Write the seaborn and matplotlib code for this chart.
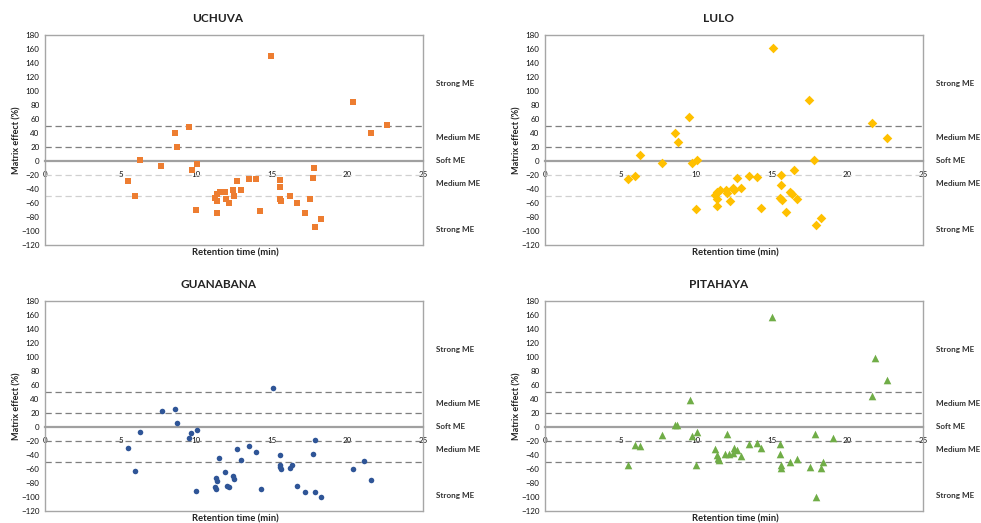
import matplotlib
matplotlib.use("Agg")
import matplotlib.pyplot as plt
import seaborn as sns
import pandas as pd

# Retention time (min) and matrix effect (%) per fruit matrix
uchuva_rt = [5.51, 5.93, 6.28, 7.69, 8.60, 8.75, 9.55, 9.70, 10.05, 9.99, 11.22, 11.35,
             11.55, 11.40, 11.38, 11.90, 11.97, 12.19, 12.41, 12.50, 12.70, 12.99, 13.51,
             13.98, 14.24, 14.95, 15.56, 15.54, 15.56, 15.61, 16.20, 16.67, 17.17, 17.53,
             17.70, 17.79, 17.88, 18.23, 20.39, 21.58, 22.60]
uchuva_me = [-29, -49.5, 1, -7, 40.5, 20, 48.6, -12.4, -4.8, -70.5, -52.4, -47,
             -44, -56.7, -74.8, -44.3, -54.3, -59.5, -42, -50, -28, -41, -25.7,
             -25.7, -71.4, 149.5, -27, -37, -54, -57.6, -49.5, -59.5, -73.8, -54.8,
             -24.8, -9.5, -93.8, -82.4, 84.3, 40.5, 52]

lulo_rt = [5.51, 5.95, 6.31, 7.72, 8.60, 8.77, 9.55, 9.72, 10.05, 9.99, 11.24, 11.40,
           11.57, 11.40, 11.38, 11.95, 12.02, 12.24, 12.41, 12.52, 12.72, 12.99, 13.51,
           14.00, 14.29, 15.06, 15.61, 15.59, 15.57, 15.66, 15.96, 16.18, 16.34, 16.45,
           16.67, 17.48, 17.81, 17.90, 18.25, 21.60, 22.60]
lulo_me = [-25.7, -21.9, 8.1, -3.3, 39.5, 27.1, 63.3, -3.3, 1, -69, -48.6, -44.3,
           -41.4, -54.3, -64.3, -41.4, -46.2, -57.1, -39, -41.9, -24.8, -39, -21.4,
           -23.3, -67.6, 161, -20, -33.8, -52.4, -55.2, -72.4, -44.3, -46.7, -12.4,
           -54.3, 86.7, 1, -91, -81.9, 53.8, 33.3]

guanabana_rt = [5.51, 5.93, 6.28, 7.72, 8.60, 8.75, 9.50, 9.68, 10.03, 9.99, 11.53, 11.33,
                11.38, 11.22, 11.33, 11.90, 12.01, 12.17, 12.41, 12.50, 12.68, 12.99, 13.51,
                13.98, 14.26, 15.07, 15.52, 15.55, 15.57, 15.61, 16.20, 16.31, 16.67, 17.17,
                17.75, 17.83, 17.88, 18.23, 20.39, 21.12, 21.58]
guanabana_me = [-30, -62.4, -7.1, 22.4, 25.2, 5.7, -16.2, -9, -4.8, -91.4, -44.8, -72.4,
                -77.1, -85.2, -89, -64.8, -84.8, -85.7, -70, -74.3, -31.4, -47.6, -27.6,
                -35.2, -89, 55.2, -39.5, -53.8, -57.1, -59.5, -58.6, -54.8, -84.8, -93.3,
                -38.6, -18.6, -92.4, -100.5, -59.5, -48.1, -75.7]

pitahaya_rt = [5.51, 5.95, 6.31, 7.72, 8.60, 8.75, 9.59, 9.70, 10.05, 9.99, 11.24, 11.38,
               11.44, 11.49, 11.88, 12.04, 12.19, 12.41, 12.52, 12.70, 12.99, 13.51, 14.00,
               14.29, 14.99, 15.56, 15.54, 15.59, 15.61, 16.20, 16.67, 17.50, 17.83, 17.90,
               18.25, 18.41, 19.03, 21.61, 21.85, 22.60]
pitahaya_me = [-54.3, -25.2, -27.6, -11.9, 3.3, 3.3, 39, -12.9, -7.1, -54.8, -31.4, -40,
               -44.3, -47.1, -38.6, -10.5, -38.6, -36.7, -29.5, -32.4, -41.4, -24.3, -22.4,
               -29.5, 157, -24.3, -38, -54.8, -58.6, -50.5, -46.2, -57.1, -9.5, -100,
               -58.6, -50.5, -16.2, 43.8, 98, 66.7]

panels = ["UCHUVA", "LULO", "GUANABANA", "PITAHAYA"]
series = [(uchuva_rt, uchuva_me), (lulo_rt, lulo_me),
          (guanabana_rt, guanabana_me), (pitahaya_rt, pitahaya_me)]
colors = ["#ED7D31", "#FFC000", "#2F5597", "#70AD47"]
markers = ["s", "D", "o", "^"]
marker_sizes = [22, 24, 16, 30]

zone_labels = ["Strong ME", "Medium ME", "Soft ME", "Medium ME", "Strong ME"]
zone_label_y = [111, 34, 1, -32, -98]

sns.set_style("white")
plt.rcParams["font.family"] = ["Lato", "DejaVu Sans"]

W, H = 981, 523
fig = plt.figure(figsize=(W / 100, H / 100), dpi=100)

# axes boxes in pixels: left, top, width, height
boxes = [(45, 35), (545, 35), (45, 301), (545, 301)]
bw, bh = 378, 210

for i, (name, (rt, me)) in enumerate(zip(panels, series)):
    left, top = boxes[i]
    ax = fig.add_axes([left / W, (H - top - bh) / H, bw / W, bh / H])
    df = pd.DataFrame({"rt": rt, "me": me})
    sns.scatterplot(data=df, x="rt", y="me", ax=ax, color=colors[i],
                    marker=markers[i], s=marker_sizes[i], linewidth=0, zorder=3)
    ax.set_xlim(0, 25)
    ax.set_ylim(-120, 180)
    ax.set_xticks(range(0, 26, 5))
    ax.set_yticks(range(-120, 181, 20))
    ax.set_xlabel("")
    ax.set_ylabel("")

    frame = "#A6A6A6"
    for side in ("left", "right", "top"):
        ax.spines[side].set_color(frame)
        ax.spines[side].set_linewidth(1.0)
    # x axis crosses at zero
    ax.spines["bottom"].set_position(("data", 0))
    ax.spines["bottom"].set_color("#A0A0A0")
    ax.spines["bottom"].set_linewidth(1.6)
    ax.plot([0, 1], [0, 0], transform=ax.transAxes, color=frame, lw=1.0,
            clip_on=False, zorder=5)

    ax.tick_params(axis="both", length=0, labelsize=5.8, colors="#111111")
    ax.tick_params(axis="y", pad=4)
    ax.tick_params(axis="x", pad=7)

    upper = "#7F7F7F"
    lower = "#D0D0D0" if i < 2 else "#7F7F7F"
    for yv in (50, 20):
        ax.axhline(yv, color=upper, lw=0.9, ls=(0, (5, 3)), zorder=1)
    for yv in (-20, -50):
        ax.axhline(yv, color=lower, lw=0.9, ls=(0, (5, 3)), zorder=1)

    for lab, yv in zip(zone_labels, zone_label_y):
        ax.text(1.035, yv, lab, transform=ax.get_yaxis_transform(), ha="left",
                va="center", fontsize=5.9, fontweight="bold", color="#333333")

    # panel title, axis titles
    tx = left + 0.458 * bw
    fig.text(tx / W, 1 - (top - 17) / H, name, ha="center", va="center",
             fontsize=8.5, fontweight="bold", color="#222222")
    fig.text((left + 0.504 * bw) / W, 1 - (top + bh + 8) / H,
             "Retention time (min)", ha="center", va="center",
             fontsize=6.8, fontweight="bold", color="#222222")
    fig.text((left - 28) / W, 1 - (top + bh / 2) / H, "Matrix effect (%)",
             ha="center", va="center", rotation=90, fontsize=6.5,
             fontweight="bold", color="#222222")

fig.savefig("out.png", dpi=100, facecolor="white")
